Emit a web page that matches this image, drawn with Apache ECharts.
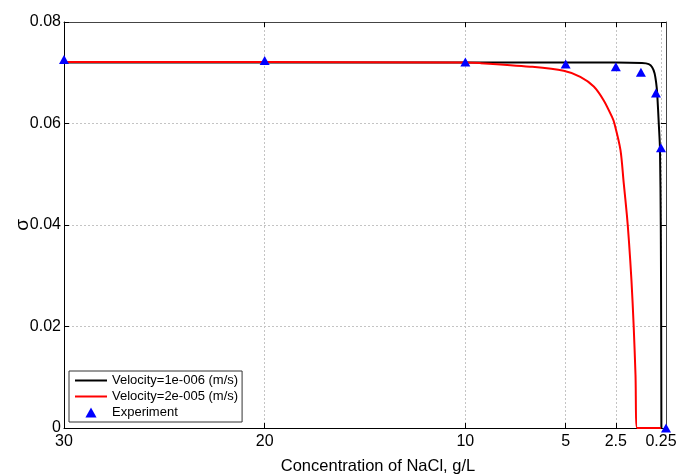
<!DOCTYPE html>
<html>
<head>
<meta charset="utf-8">
<script src="https://cdn.jsdelivr.net/npm/echarts@6/dist/echarts.min.js"></script>
<style>
html,body{margin:0;padding:0;background:#fff;}
#chart{width:688px;height:475px;}
</style>
</head>
<body>
<div id="chart"></div>
<script>
// ---- data ----
const xTickValues = [30, 20, 10, 5, 2.5, 0.25];
const yTickValues = [0, 0.02, 0.04, 0.06, 0.08];

const blackName = 'Velocity=1e-006 (m/s)';
const blackX = [30, 20, 10, 5, 2.5, 1.2, 0.86, 0.69, 0.57, 0.49, 0.44, 0.36, 0.30, 0.26, 0.24, 0.23];
const blackY = [0.0720, 0.0720, 0.0720, 0.0720, 0.0720, 0.0719, 0.0717, 0.0711, 0.0699, 0.0680, 0.0660, 0.0600, 0.0550, 0.0400, 0.0200, 0];

const redName = 'Velocity=2e-005 (m/s)';
const redX = [30, 20, 10, 9.26, 6.77, 5.10, 4.27, 3.60, 3.11, 2.69, 2.57, 2.27, 2.11, 1.95, 1.85, 1.72, 1.61, 1.52, 1.44, 0.25];
const redY = [0.0721, 0.0721, 0.0720, 0.0719, 0.0712, 0.0704, 0.0692, 0.0673, 0.0646, 0.0613, 0.0600, 0.0548, 0.0484, 0.0420, 0.0370, 0.0290, 0.0200, 0.0105, 0, 0];

const expName = 'Experiment';
const expX = [30, 20, 10, 5, 2.5, 1.25, 0.5, 0.25, 0];
const expY = [0.0726, 0.0724, 0.0721, 0.0717, 0.0712, 0.0701, 0.0660, 0.0552, 0];

const xTitle = 'Concentration of NaCl, g/L';
const yTitle = 'σ';

// ---- build ----
const zip = (xs, ys) => xs.map((x, i) => [x, ys[i]]);
const font = 'Liberation Sans, Arial, Helvetica, sans-serif';
const gridLine = { show: true, lineStyle: { color: '#c4c4c4', width: 1, type: [2, 2] } };
const lineIcon = 'path://M0,0H32V2H0Z';
const triIcon = 'path://M5,0L10,9L0,9Z';

const chart = echarts.init(document.getElementById('chart'), null, { renderer: 'canvas' });
chart.setOption({
  animation: false,
  backgroundColor: '#fff',
  grid: { left: 64, right: 22, top: 22, bottom: 47, containLabel: false, outerBoundsMode: 'none' },
  legend: {
    left: 69, top: 371,
    orient: 'vertical',
    backgroundColor: '#fff',
    borderColor: '#333', borderWidth: 1, borderRadius: 0,
    padding: [3, 4, 3, 6],
    itemGap: 3,
    itemWidth: 32, itemHeight: 10,
    symbolKeepAspect: true,
    textStyle: { fontFamily: font, fontSize: 13, color: '#000' },
    data: [
      { name: blackName, icon: lineIcon, itemStyle: { color: '#000' } },
      { name: redName, icon: lineIcon, itemStyle: { color: '#ff0000' } },
      { name: expName, icon: triIcon, itemStyle: { color: '#0000ff', opacity: 1 } }
    ]
  },
  xAxis: [
    {
      type: 'value', min: 0, max: 30, inverse: true, position: 'bottom',
      name: xTitle, nameLocation: 'middle', nameGap: 30, nameMoveOverlap: false,
      nameTextStyle: { fontFamily: font, fontSize: 16.5, color: '#000', padding: [0, 0, 0, 26] },
      axisLine: { show: true, onZero: false, lineStyle: { color: '#000', width: 1 } },
      axisTick: { show: true, inside: true, length: 5, customValues: xTickValues, lineStyle: { color: '#000' } },
      axisLabel: { show: true, customValues: xTickValues, margin: 6, fontFamily: font, fontSize: 16, color: '#000' },
      splitLine: gridLine
    },
    {
      type: 'value', min: 0, max: 30, inverse: true, position: 'top',
      axisLine: { show: true, onZero: false, lineStyle: { color: '#444', width: 1 } },
      axisTick: { show: true, inside: true, length: 5, customValues: xTickValues, lineStyle: { color: '#000' } },
      axisLabel: { show: false },
      splitLine: { show: false }
    }
  ],
  yAxis: [
    {
      type: 'value', min: 0, max: 0.08, interval: 0.02, position: 'left',
      name: yTitle, nameLocation: 'middle', nameGap: 32, nameRotate: 90, nameMoveOverlap: false,
      nameTextStyle: { fontFamily: font, fontSize: 19, color: '#000' },
      axisLine: { show: true, onZero: false, lineStyle: { color: '#000', width: 1 } },
      axisTick: { show: true, inside: true, length: 5, lineStyle: { color: '#000' } },
      axisLabel: { show: true, margin: 3, fontFamily: font, fontSize: 16, color: '#000' },
      splitLine: gridLine
    },
    {
      type: 'value', min: 0, max: 0.08, interval: 0.02, position: 'right',
      axisLine: { show: true, onZero: false, lineStyle: { color: '#444', width: 1 } },
      axisTick: { show: true, inside: true, length: 5, lineStyle: { color: '#000' } },
      axisLabel: { show: false },
      splitLine: { show: false }
    }
  ],
  series: [
    {
      name: blackName, type: 'line', xAxisIndex: 0, yAxisIndex: 0,
      data: zip(blackX, blackY), symbol: 'none', smooth: 0.25,
      lineStyle: { color: '#000', width: 2 }, itemStyle: { color: '#000' }, z: 3
    },
    {
      name: redName, type: 'line', xAxisIndex: 0, yAxisIndex: 0,
      data: zip(redX, redY), symbol: 'none', smooth: 0.3,
      lineStyle: { color: '#ff0000', width: 2 }, itemStyle: { color: '#ff0000' }, z: 4
    },
    {
      name: expName, type: 'scatter', xAxisIndex: 0, yAxisIndex: 0,
      data: zip(expX, expY), symbol: 'triangle', symbolSize: [10, 9], clip: false,
      itemStyle: { color: '#0000ff', opacity: 1 }, z: 5
    }
  ]
});
</script>
</body>
</html>
